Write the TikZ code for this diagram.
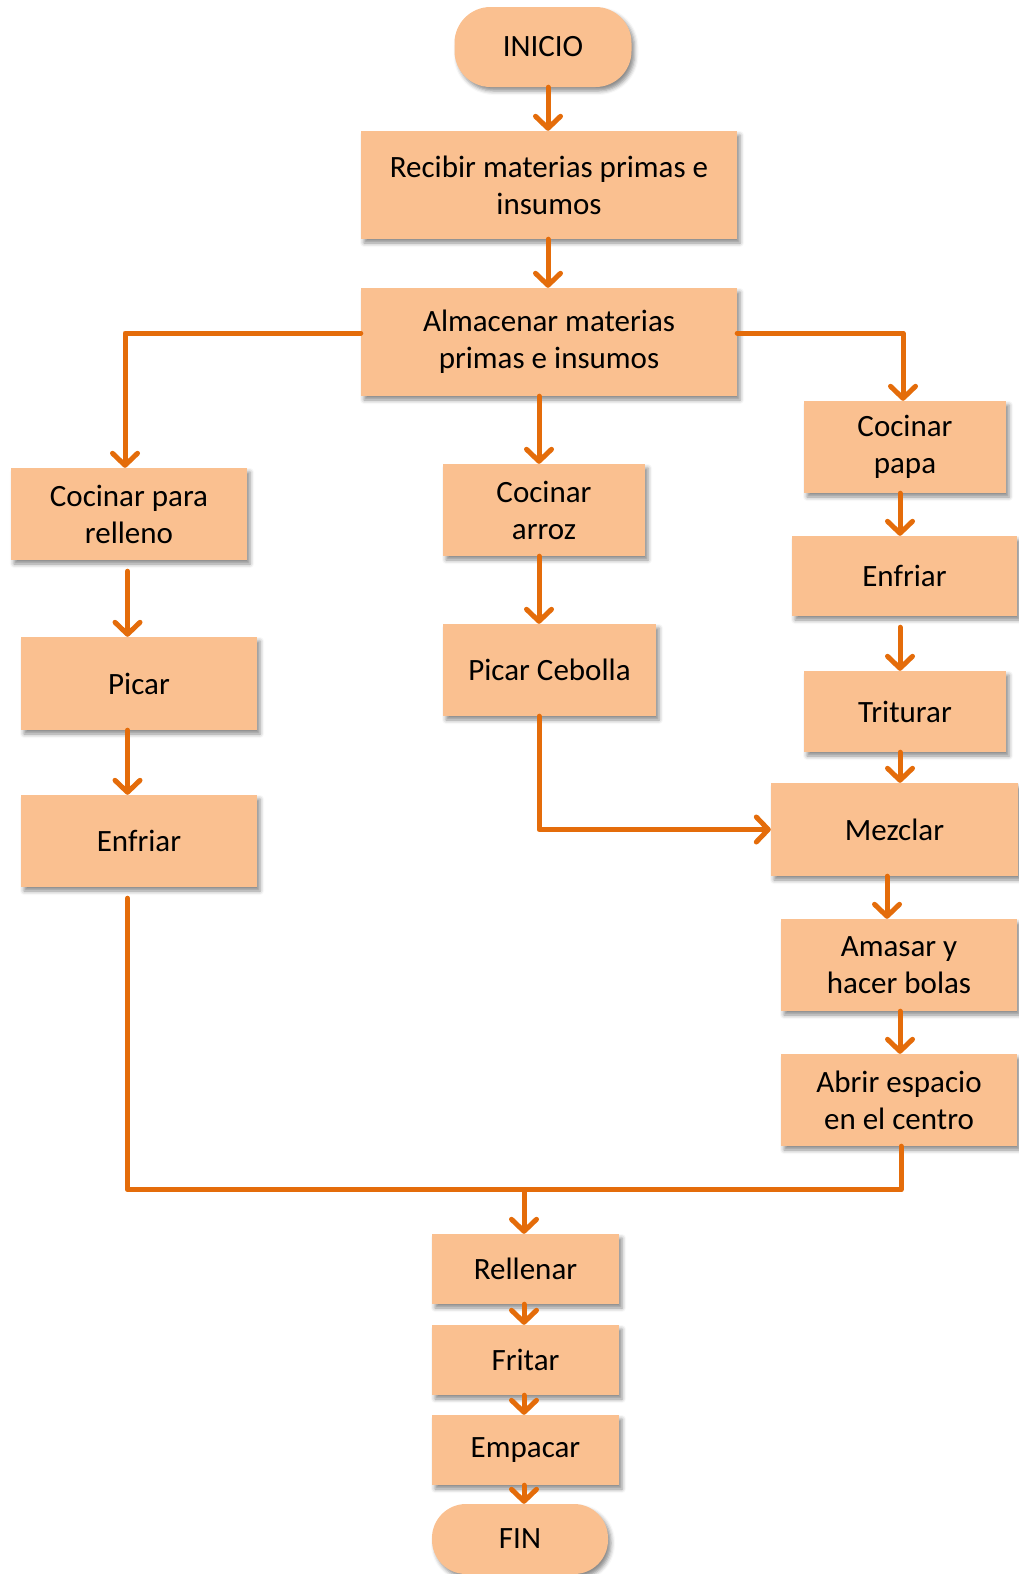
\documentclass[tikz,border=0pt]{standalone}
\usepackage{fontspec}
\setmainfont{Carlito}
\usetikzlibrary{arrows.meta,shadows.blur,calc}
\definecolor{boxfill}{HTML}{FAC090}
\definecolor{flowline}{HTML}{E46C0A}
\tikzset{
  stepbox/.style={rectangle, fill=boxfill, align=center, inner sep=0pt,
    font=\fontsize{31}{37}\selectfont,
    blur shadow={shadow xshift=3pt, shadow yshift=-4pt, shadow blur radius=4pt, shadow opacity=45}},
  flowplain/.style={draw=flowline, line width=5pt, line join=round, line cap=round},
  flow/.style={flowplain,
    -{Straight Barb[length=12pt,width=25pt,line width=5pt,round]}}
}
\begin{document}
\begin{tikzpicture}[x=1pt,y=-1pt]
\useasboundingbox (0,0) rectangle (1018,1574);

% start / end terminals
\node[stepbox, rounded corners=36pt, minimum width=177pt, minimum height=80pt] (ini) at (543,47) {INICIO};
\node[stepbox, rounded corners=34pt, minimum width=176pt, minimum height=70pt] (fin) at (520,1539) {FIN};

% main trunk
\node[stepbox, minimum width=376pt, minimum height=108pt] (rec) at (549,185) {Recibir materias primas e\\insumos};
\node[stepbox, minimum width=376pt, minimum height=108pt] (alm) at (549,342) {Almacenar materias\\primas e insumos};

% left branch
\node[stepbox, minimum width=236pt, minimum height=92pt] (rel) at (129,514) {Cocinar para\\relleno};
\node[stepbox, minimum width=236pt, minimum height=93pt] (pic) at (139,683.5) {Picar};
\node[stepbox, minimum width=236pt, minimum height=92pt] (enl) at (139,841) {Enfriar};

% middle branch
\node[stepbox, minimum width=202pt, minimum height=92pt] (arr) at (544,510) {Cocinar\\arroz};
\node[stepbox, minimum width=213pt, minimum height=92pt] (ceb) at (549.5,670) {Picar Cebolla};

% right branch
\node[stepbox, minimum width=202pt, minimum height=92pt] (pap) at (905,447) {Cocinar\\papa};
\node[stepbox, minimum width=225pt, minimum height=80pt] (enr) at (904.5,576) {Enfriar};
\node[stepbox, minimum width=202pt, minimum height=81pt] (tri) at (905,711.5) {Triturar};
\node[stepbox, minimum width=247pt, minimum height=93pt] (mez) at (894.5,829.5) {Mezclar};
\node[stepbox, minimum width=236pt, minimum height=92pt] (ama) at (899,965) {Amasar y\\hacer bolas};
\node[stepbox, minimum width=236pt, minimum height=92pt] (abr) at (899,1100) {Abrir espacio\\en el centro};

% final sequence
\node[stepbox, minimum width=187pt, minimum height=70pt] (rll) at (525.5,1269) {Rellenar};
\node[stepbox, minimum width=187pt, minimum height=70pt] (fri) at (525.5,1360) {Fritar};
\node[stepbox, minimum width=187pt, minimum height=70pt] (emp) at (525.5,1450) {Empacar};

% junction points
\coordinate (relTop) at ($(rel.north)+(-4,0)$);
\coordinate (papTop) at ($(pap.north)+(-2,0)$);
\coordinate (join) at ($(rll.north)+(-1.5,-44)$);

% connectors
\draw[flow] ($(ini.south)+(5,0)$) -- ($(rec.north)+(-1,0)$);
\draw[flow] ($(rec.south)+(-1,0)$) -- ($(alm.north)+(-1,0)$);
\draw[flow] ($(alm.west)+(0,-9)$) -| (relTop);
\draw[flow] ($(alm.east)+(0,-9)$) -| (papTop);
\draw[flow] ($(alm.south)+(-10,0)$) -- ($(arr.north)+(-5,0)$);
\draw[flow] ($(arr.south)+(-5,0)$) -- ($(ceb.north)+(-10.5,0)$);
\draw[flow] ($(ceb.south)+(-10.5,0)$) |- (mez.west);

\draw[flow] ($(rel.south)+(-1.5,11)$) -- ($(pic.north)+(-11.5,0)$);
\draw[flow] ($(pic.south)+(-11.5,0)$) -- ($(enl.north)+(-11.5,0)$);

\draw[flow] ($(pap.south)+(-5,0)$) -- ($(enr.north)+(-4.5,0)$);
\draw[flow] ($(enr.south)+(-4.5,11)$) -- ($(tri.north)+(-5,0)$);
\draw[flow] ($(tri.south)+(-5,0)$) -- ($(mez.north)+(5.5,0)$);
\draw[flow] ($(mez.south)+(-7.5,0)$) -- ($(ama.north)+(-12,0)$);
\draw[flow] ($(ama.south)+(1,0)$) -- ($(abr.north)+(1,0)$);

\draw[flowplain] ($(enl.south)+(-11.5,11)$) |- (join);
\draw[flowplain] ($(abr.south)+(2,0)$) |- (join);
\draw[flow] (join) -- ($(rll.north)+(-1.5,0)$);
\draw[flow] ($(rll.south)+(-1.5,0)$) -- ($(fri.north)+(-1.5,0)$);
\draw[flow] ($(fri.south)+(-1.5,0)$) -- ($(emp.north)+(-1.5,0)$);
\draw[flow] ($(emp.south)+(-1.5,0)$) -- ($(fin.north)+(4,0)$);
\end{tikzpicture}
\end{document}
